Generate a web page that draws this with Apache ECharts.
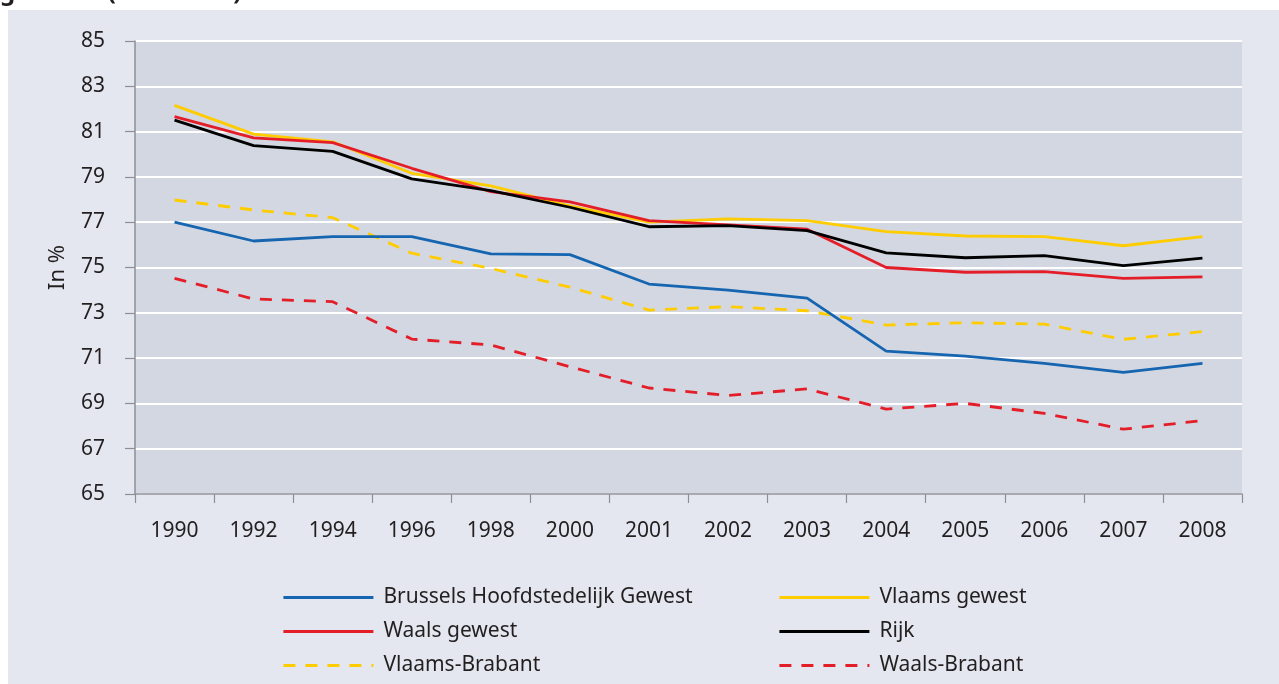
<!DOCTYPE html>
<html>
<head>
<meta charset="utf-8">
<script src="https://cdn.jsdelivr.net/npm/echarts@6/dist/echarts.min.js"></script>
<style>
html,body{margin:0;padding:0;background:#ffffff;width:1279px;height:684px;overflow:hidden;}
#panel{position:absolute;left:8px;top:10px;width:1271px;height:674px;background:#e4e7ef;}
#chart{position:absolute;left:0;top:0;width:1279px;height:684px;}
</style>
</head>
<body>
<div id="panel"></div>
<div id="chart"></div>
<script>
const years = ['1990','1992','1994','1996','1998','2000','2001','2002','2003','2004','2005','2006','2007','2008'];
const brussels = [77.0, 76.17, 76.36, 76.36, 75.6, 75.57, 74.27, 74.0, 73.65, 71.31, 71.09, 70.77, 70.37, 70.77];
const vlaamsGewest = [82.16, 80.89, 80.55, 79.16, 78.6, 77.72, 77.0, 77.15, 77.07, 76.58, 76.39, 76.36, 75.96, 76.36];
const waalsGewest = [81.66, 80.72, 80.51, 79.38, 78.35, 77.9, 77.07, 76.88, 76.69, 75.0, 74.79, 74.82, 74.52, 74.59];
const rijk = [81.51, 80.38, 80.13, 78.91, 78.39, 77.66, 76.8, 76.85, 76.63, 75.65, 75.43, 75.52, 75.08, 75.41];
const vlaamsBrabant = [77.98, 77.54, 77.2, 75.63, 74.96, 74.13, 73.12, 73.27, 73.09, 72.46, 72.56, 72.5, 71.83, 72.17];
const waalsBrabant = [74.52, 73.61, 73.49, 71.84, 71.58, 70.62, 69.68, 69.35, 69.64, 68.75, 69.0, 68.56, 67.86, 68.24];
const yMin = 65, yMax = 85, yStep = 2;
const titleText = 'geslacht (1990-2008)';
const yName = 'In %';

const FONT = 'Noto Sans';
const TXT = '#231f20';
const BLUE = '#1565b0', YELLOW = '#ffcc00', RED = '#e31e29', BLACK = '#000000';
const LW = 2.8;

function line(name, data, color, dashed) {
  return {
    name: name, type: 'line', data: data, symbol: 'none', smooth: false,
    lineStyle: { color: color, width: LW, type: dashed ? [12, 10] : 'solid' },
    itemStyle: { color: color },
    emphasis: { disabled: true }
  };
}

function legendCol(left, names) {
  return {
    orient: 'vertical', left: left, top: 587, padding: 0,
    itemWidth: 90, itemHeight: 20, itemGap: 13,
    itemStyle: { opacity: 0, borderWidth: 0 },
    lineStyle: { width: LW },
    textStyle: { fontFamily: FONT, fontSize: 21, color: TXT, padding: [0, 0, 0, 5] },
    data: names
  };
}

const chart = echarts.init(document.getElementById('chart'), null, { renderer: 'canvas' });
chart.setOption({
  animation: false,
  backgroundColor: 'transparent',
  textStyle: { fontFamily: FONT },
  graphic: [{
    type: 'text', x: 0, y: 5,
    style: { text: titleText, font: 'bold 24px "' + FONT + '"', fill: TXT, verticalAlign: 'bottom' }
  }],
  grid: {
    left: 135, right: 37, top: 41, bottom: 190,
    show: true, backgroundColor: '#d3d7e1', borderWidth: 0
  },
  legend: [
    legendCol(282, ['Brussels Hoofdstedelijk Gewest', 'Waals gewest', 'Vlaams-Brabant']),
    legendCol(778, ['Vlaams gewest', 'Rijk', 'Waals-Brabant'])
  ],
  xAxis: {
    type: 'category', data: years, boundaryGap: true,
    axisLine: { show: true, lineStyle: { color: '#8c8f96', width: 1.5 } },
    axisTick: { show: true, length: 9, lineStyle: { color: '#8c8f96', width: 1.2 } },
    axisLabel: { color: TXT, fontSize: 21, fontFamily: FONT, margin: 27 },
    splitLine: { show: false }
  },
  yAxis: {
    type: 'value', min: yMin, max: yMax, interval: yStep,
    name: yName, nameLocation: 'middle', nameGap: 66, nameRotate: 90,
    nameTextStyle: { color: TXT, fontSize: 22, fontFamily: FONT },
    axisLine: { show: true, lineStyle: { color: '#8c8f96', width: 1.5 } },
    axisTick: { show: true, length: 10, lineStyle: { color: '#8c8f96', width: 1.2 } },
    axisLabel: { color: TXT, fontSize: 21, fontFamily: FONT, margin: 30 },
    splitLine: { show: true, lineStyle: { color: '#ffffff', width: 2 } }
  },
  series: [
    line('Waals-Brabant', waalsBrabant, RED, true),
    line('Vlaams-Brabant', vlaamsBrabant, YELLOW, true),
    line('Brussels Hoofdstedelijk Gewest', brussels, BLUE, false),
    line('Vlaams gewest', vlaamsGewest, YELLOW, false),
    line('Waals gewest', waalsGewest, RED, false),
    line('Rijk', rijk, BLACK, false)
  ]
});
</script>
</body>
</html>
